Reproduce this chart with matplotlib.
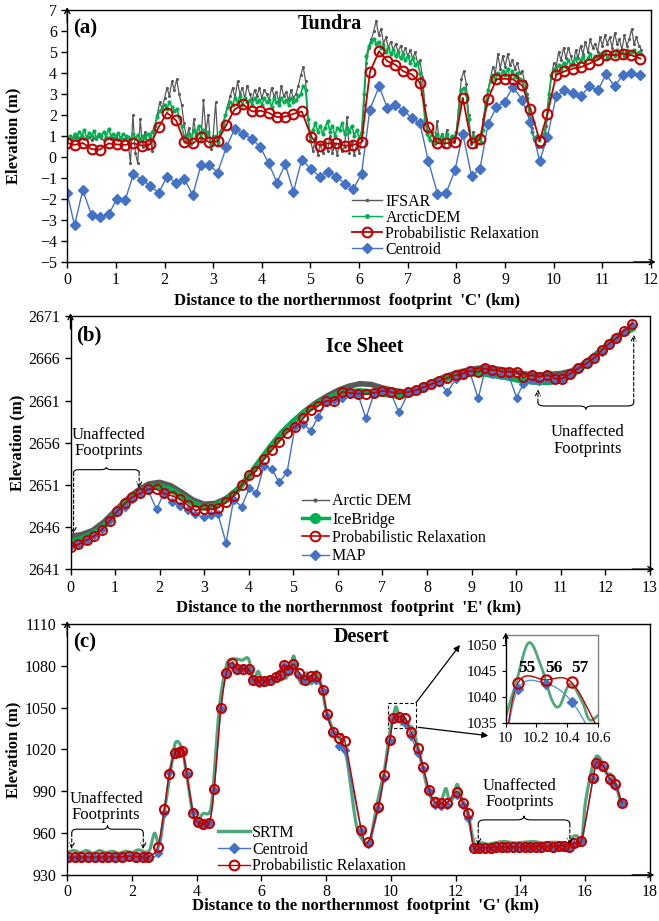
import numpy as np
import matplotlib
matplotlib.use('Agg')
import matplotlib.pyplot as plt
from matplotlib.lines import Line2D
from matplotlib.path import Path
from matplotlib.patches import PathPatch, Rectangle

plt.rcParams['font.family'] = ['Liberation Serif', 'DejaVu Serif']
plt.rcParams['font.size'] = 11.5
plt.rcParams['axes.linewidth'] = 1.0

GRAY = '#595959'
GREEN = '#00B050'
RED = '#C00000'
BLUE = '#4472C4'
SRTM_GREEN = '#4FA87C'

# ---------------- (a) Tundra ----------------
a_step_km = 0.05
a_ifsar = [0.8, 0.9, 0.85, 0.95, 0.8, 0.9, 1.0, 0.85, 0.9, 0.95, 0.8, 0.9, 0.85, 1.0, 0.9, 0.8, 0.95, 0.9, 0.85, 0.9,
           0.9, 0.8, 0.95, 0.85, 0.9, 0.7, -0.3, 2.0, 0.2, -0.3, 1.8, 0.5, 1.2, 0.4, 0.9, 0.3, 1.5, 2.0, 2.6, 2.3,
           2.8, 3.3, 2.9, 3.6, 3.2, 3.7, 3.0, 2.5, 1.6, 0.9, 1.4, 0.6, 1.8, 1.0, 1.5, 0.8, 2.7, 1.2, 2.0, 0.4,
           1.0, 2.6, 0.6, 1.2, 1.5, 2.0, 2.5, 2.9, 3.3, 2.8, 3.6, 3.0, 3.3, 2.8, 3.4, 3.0, 2.7, 3.2, 2.9, 3.3,
           2.8, 3.2, 3.0, 2.7, 3.3, 2.9, 3.1, 2.6, 3.4, 2.9, 3.1, 2.7, 3.2, 2.8, 3.0, 3.4, 3.9, 4.3, 3.6, 1.8,
           0.8, 0.3, 0.9, 0.1, 0.6, 0.2, 0.7, 0.3, 1.0, 0.2, 0.6, 0.1, 0.8, 0.3, 0.5, 1.9, 0.2, 0.7, 0.1, 0.6,
           0.2, 0.8, 2.5, 4.5, 5.2, 5.6, 6.0, 6.5, 5.8, 6.1, 5.4, 5.7, 5.2, 5.5, 5.1, 5.4, 5.0, 5.3, 4.9, 5.2,
           4.8, 5.1, 4.7, 5.0, 4.5, 4.6, 3.8, 2.5, 1.3, 0.8, 1.2, 0.6, 1.7, 0.7, 1.1, 0.5, 1.3, 0.6, 1.0, 0.7,
           1.2, 2.5, 3.7, 4.1, 3.5, 2.0, 0.6, 1.2, 0.5, 1.0, 0.7, 1.8, 2.6, 3.2, 3.8, 4.3, 4.0, 4.9, 4.2, 4.8,
           4.3, 4.9, 4.4, 4.6, 4.2, 4.5, 4.0, 4.1, 3.6, 3.0, 2.3, 1.4, 0.8, 0.5, 0.5, 0.5, 0.6, 1.5, 2.8, 3.8,
           4.5, 4.3, 5.0, 4.6, 5.2, 4.7, 5.2, 4.8, 4.4, 5.1, 4.7, 5.3, 4.9, 5.5, 5.0, 5.6, 5.2, 5.4, 5.0, 5.7,
           5.3, 5.8, 5.4, 5.7, 5.2, 5.9, 5.4, 5.6, 5.1, 5.8, 5.3, 5.6, 6.1, 5.4, 5.7, 5.3, 5.1]
a_arctic = [0.9, 1.0, 0.85, 1.1, 0.95, 1.2, 1.0, 1.3, 0.9, 1.15, 1.0, 1.25, 0.9, 1.1, 1.0, 1.2, 0.95, 1.35, 1.0, 1.1,
            1.0, 1.15, 0.9, 1.1, 1.0, 0.95, 0.8, 1.1, 0.9, 1.05, 0.85, 1.0, 0.9, 1.1, 1.0, 1.2, 1.5, 1.9, 2.2, 2.3,
            2.5, 2.3, 2.6, 2.4, 2.2, 2.3, 1.9, 1.5, 1.0, 0.7, 1.1, 0.8, 1.3, 1.0, 1.5, 0.9, 1.3, 1.0, 1.2, 0.6,
            0.8, 1.0, 0.7, 1.2, 1.6, 2.0, 2.4, 2.6, 2.5, 2.8, 2.6, 2.9, 2.5, 2.8, 2.6, 2.7, 2.5, 2.8, 2.6, 2.7,
            2.5, 2.8, 2.6, 2.7, 2.4, 2.8, 2.6, 2.5, 2.8, 2.6, 2.7, 2.5, 2.8, 2.6, 2.7, 2.9, 3.0, 3.4, 3.2, 1.8,
            1.0, 1.3, 1.6, 1.2, 1.5, 1.1, 1.4, 1.7, 1.2, 1.5, 1.0, 1.4, 1.3, 1.6, 1.1, 1.4, 1.2, 1.5, 1.0, 1.3,
            0.9, 1.2, 3.0, 4.8, 5.3, 5.5, 5.6, 5.4, 5.5, 5.2, 5.3, 5.0, 5.2, 4.9, 5.1, 4.8, 5.0, 4.7, 4.9, 4.6,
            4.8, 4.5, 4.7, 4.4, 4.5, 4.0, 3.0, 1.8, 1.1, 0.8, 1.2, 0.7, 1.1, 0.8, 1.0, 0.7, 1.1, 0.8, 1.0, 0.9,
            1.2, 2.3, 3.2, 3.3, 3.0, 1.8, 0.8, 1.0, 0.6, 0.9, 0.7, 1.3, 2.5, 3.2, 3.6, 3.9, 3.7, 4.0, 3.8, 4.1,
            3.9, 4.2, 3.8, 4.1, 3.8, 4.0, 3.7, 3.6, 3.3, 2.8, 2.0, 1.2, 0.9, 1.0, 0.8, 1.0, 1.1, 1.8, 3.0, 3.9,
            4.2, 4.0, 4.4, 4.2, 4.5, 4.3, 4.6, 4.4, 4.5, 4.7, 4.4, 4.6, 4.8, 4.5, 4.7, 4.9, 4.6, 4.8, 4.7, 4.9,
            4.8, 5.0, 4.7, 4.9, 5.0, 4.8, 5.1, 4.9, 5.0, 4.8, 5.1, 4.9, 5.0, 5.1, 4.9, 5.0, 4.9]

a_km = [0.00, 0.15, 0.32, 0.50, 0.67, 0.85, 1.02, 1.19, 1.36, 1.54, 1.71, 1.88, 2.05, 2.24, 2.41, 2.58, 2.75,
        2.92, 3.09, 3.27, 3.44, 3.61, 3.80, 3.97, 4.14, 4.31, 4.48, 4.65, 4.82, 5.02, 5.19, 5.36, 5.53, 5.71,
        5.88, 6.05, 6.22, 6.41, 6.58, 6.74, 6.91, 7.08, 7.25, 7.42, 7.61, 7.79, 7.97, 8.13, 8.31, 8.48, 8.65,
        8.82, 8.99, 9.16, 9.35, 9.52, 9.71, 9.87, 10.05, 10.22, 10.39, 10.56, 10.73, 10.91, 11.07, 11.25,
        11.42, 11.59, 11.78]
a_pr = [0.67, 0.58, 0.67, 0.38, 0.35, 0.65, 0.60, 0.58, 0.65, 0.54, 0.60, 1.42, 2.11, 1.74, 0.70, 0.65, 0.94,
        0.70, 0.75, 1.53, 2.27, 2.51, 2.17, 2.20, 2.11, 1.90, 1.93, 2.06, 2.17, 0.94, 0.54, 0.65, 0.65, 0.54,
        0.58, 0.70, 4.05, 5.04, 4.56, 4.40, 4.08, 3.94, 3.54, 1.45, 0.65, 0.65, 0.73, 2.82, 0.65, 0.84, 2.77,
        3.70, 3.73, 3.70, 3.41, 2.29, 0.78, 2.05, 3.92, 4.08, 4.21, 4.28, 4.45, 4.64, 4.88, 4.85, 4.93, 4.85,
        4.69]
a_centroid = [-1.73, -3.25, -1.58, -2.77, -2.86, -2.73, -2.01, -2.06, -0.82, -1.09, -1.38, -1.70, -0.93, -1.22,
              -1.06, -1.82, -0.37, -0.37, -0.74, 0.46, 1.34, 1.10, 0.86, 0.46, -0.29, -1.22, -0.34, -1.65, -0.13,
              -0.58, -0.94, -0.69, -0.93, -1.27, -1.53, -0.79, 2.26, 3.36, 2.34, 2.50, 2.21, 1.86, 1.61, -0.18,
              -1.74, -1.70, -0.62, 1.10, -0.90, -0.58, 1.58, 2.37, 2.64, 3.33, 2.73, 1.65, -0.19, 0.97, 2.90,
              3.17, 3.04, 2.90, 3.36, 3.17, 3.94, 3.36, 3.92, 4.02, 3.89]

# ---------------- (b) Ice Sheet ----------------
b_dem_step_km = 0.25
b_arctic_dem = [2644.9, 2645.1, 2645.6, 2646.6, 2647.9, 2649.2, 2650.3, 2651.1, 2651.3, 2650.9, 2650.1, 2649.2,
                2648.7, 2648.8, 2649.4, 2650.5, 2652.0, 2653.8, 2655.5, 2657.1, 2658.5, 2659.7, 2660.7, 2661.5,
                2662.2, 2662.7, 2663.0, 2662.9, 2662.5, 2662.2, 2662.0, 2662.3, 2662.9, 2663.5, 2664.0, 2664.4,
                2664.7, 2664.9, 2664.8, 2664.6, 2664.4, 2664.1, 2664.0, 2664.1, 2664.2, 2664.5, 2665.3, 2666.3,
                2667.4, 2668.6, 2669.6]
b_icebridge = [2644.2, 2644.6, 2645.2, 2646.1, 2647.5, 2648.9, 2650.0, 2650.7, 2650.8, 2650.4, 2649.6, 2648.8,
               2648.3, 2648.5, 2649.2, 2650.4, 2652.0, 2653.8, 2655.6, 2657.2, 2658.5, 2659.6, 2660.5, 2661.2,
               2661.7, 2662.0, 2662.1, 2662.0, 2661.8, 2661.6, 2661.6, 2662.0, 2662.6, 2663.2, 2663.7, 2664.0,
               2664.2, 2664.2, 2664.0, 2663.8, 2663.5, 2663.3, 2663.2, 2663.2, 2663.4, 2664.0, 2665.0, 2666.1,
               2667.3, 2668.5, 2669.5]

b_km = [0.00, 0.17, 0.36, 0.53, 0.71, 0.88, 1.05, 1.22, 1.39, 1.57, 1.74, 1.93, 2.10, 2.28, 2.45, 2.63, 2.80,
        2.99, 3.16, 3.31, 3.49, 3.66, 3.84, 4.01, 4.17, 4.34, 4.52, 4.68, 4.86, 5.04, 5.22, 5.39, 5.56, 5.74,
        5.92, 6.10, 6.27, 6.45, 6.63, 6.81, 7.00, 7.19, 7.37, 7.58, 7.75, 7.91, 8.10, 8.27, 8.46, 8.65, 8.80,
        8.96, 9.15, 9.30, 9.47, 9.66, 9.84, 10.01, 10.16, 10.35, 10.52, 10.70, 10.87, 11.04, 11.22, 11.39,
        11.58, 11.74, 11.92, 12.09, 12.25, 12.42, 12.61]
b_pr = [2643.64, 2643.93, 2644.44, 2644.91, 2645.70, 2646.73, 2647.88, 2648.79, 2649.58, 2649.98, 2650.49,
        2650.49, 2649.98, 2649.69, 2649.30, 2648.59, 2648.00, 2648.08, 2648.08, 2648.27, 2648.91, 2649.69,
        2650.96, 2652.11, 2652.66, 2654.04, 2655.11, 2656.10, 2657.17, 2657.88, 2658.87, 2659.85, 2660.36,
        2660.96, 2661.00, 2662.03, 2661.90, 2661.83, 2661.75, 2661.90, 2662.14, 2662.00, 2661.83, 2662.00,
        2662.23, 2662.55, 2662.94, 2663.29, 2663.69, 2664.00, 2664.20, 2664.52, 2664.40, 2664.80, 2664.60,
        2664.40, 2664.40, 2664.40, 2663.73, 2664.00, 2663.80, 2664.00, 2663.61, 2663.61, 2664.20, 2664.80,
        2665.39, 2665.99, 2666.97, 2667.76, 2668.36, 2669.26, 2670.13]
b_map = [2643.70, 2643.93, 2644.44, 2645.00, 2645.74, 2646.80, 2647.88, 2648.40, 2649.38, 2650.06, 2650.37,
         2648.08, 2650.06, 2648.91, 2648.47, 2648.00, 2647.52, 2647.13, 2647.40, 2647.52, 2644.12, 2649.26,
         2648.40, 2650.57, 2649.98, 2653.21, 2652.86, 2651.28, 2652.47, 2657.96, 2658.27, 2657.40, 2659.06,
         2660.96, 2661.12, 2661.35, 2661.80, 2661.75, 2658.87, 2661.83, 2662.00, 2661.90, 2659.58, 2661.90,
         2662.23, 2662.45, 2662.82, 2663.20, 2662.00, 2663.61, 2664.00, 2664.40, 2661.24, 2664.60, 2664.20,
         2664.00, 2663.90, 2661.35, 2662.94, 2663.41, 2663.30, 2663.61, 2663.50, 2663.61, 2664.10, 2664.70,
         2665.30, 2665.99, 2666.77, 2667.56, 2668.24, 2669.15, 2670.00]

# ---------------- (c) Desert ----------------
c_srtm_km = [0, 0.2, 0.4, 0.6, 0.8, 1.0, 1.2, 1.4, 1.6, 1.8, 2.0, 2.2, 2.4, 2.55, 2.7, 2.85, 3.0, 3.2, 3.35,
             3.55, 3.7, 3.9, 4.05, 4.2, 4.4, 4.5, 4.7, 4.9, 5.0, 5.2, 5.4, 5.6, 5.75, 5.9, 6.05, 6.25, 6.45,
             6.6, 6.75, 6.9, 7.0, 7.1, 7.25, 7.4, 7.55, 7.7, 7.85, 8.0, 8.2, 8.35, 8.5, 8.65, 8.8, 8.95, 9.1,
             9.25, 9.35, 9.45, 9.6, 9.8, 9.95, 10.07, 10.15, 10.23, 10.3, 10.35, 10.42, 10.5, 10.55, 10.65,
             10.8, 10.95, 11.1, 11.25, 11.4, 11.55, 11.7, 11.8, 11.95, 12.05, 12.2, 12.35, 12.5, 12.6, 12.8,
             13.0, 13.2, 13.5, 13.8, 14.1, 14.4, 14.7, 15.0, 15.3, 15.5, 15.6, 15.75, 15.9, 16.0, 16.2, 16.35,
             16.5, 16.65, 16.8, 16.95, 17.1]
c_srtm = [946, 947.5, 946, 947.5, 945.5, 947.5, 946, 947, 945.5, 947, 946, 948, 946.5, 948, 960, 952, 975,
          1005, 1025, 1020, 1000, 972, 970, 974, 975, 990, 1050, 1078, 1084, 1085, 1084, 1085, 1070, 1076,
          1068, 1072, 1069, 1077, 1071, 1079, 1087, 1075, 1067, 1075, 1067, 1076, 1066, 1048, 1035, 1029,
          1025, 1012, 986, 964, 956, 952, 952, 965, 984, 1005, 1030, 1043, 1050.5, 1046, 1039.5, 1038.2,
          1042.5, 1039, 1035.5, 1036, 1025, 1010, 995, 985, 985, 983, 992, 984, 986, 995, 984, 978, 960,
          952, 953, 952, 953, 954, 953, 953.5, 954, 953, 953.5, 953, 952, 957, 958, 955, 980, 1005, 1015,
          1012, 1003, 1002, 995, 982]

c_km = [0.03, 0.24, 0.44, 0.65, 0.86, 1.06, 1.27, 1.47, 1.68, 1.91, 2.12, 2.33, 2.50, 2.79, 3.00, 3.15, 3.33,
        3.45, 3.56, 3.69, 3.89, 4.03, 4.20, 4.39, 4.54, 4.75, 4.92, 5.08, 5.25, 5.44, 5.61, 5.75, 5.92, 6.09,
        6.26, 6.45, 6.57, 6.69, 6.83, 6.98, 7.17, 7.34, 7.52, 7.70, 7.89, 8.03, 8.22, 8.40, 8.58, 9.09, 9.30,
        9.61, 9.79, 9.97, 10.08, 10.26, 10.43, 10.62, 10.84, 11.00, 11.18, 11.36, 11.54, 11.72, 12.03, 12.23,
        12.39, 12.56, 12.73, 12.90, 13.08, 13.25, 13.43, 13.60, 13.78, 13.95, 14.13, 14.30, 14.48, 14.65,
        14.83, 15.00, 15.18, 15.36, 15.50, 15.65, 15.89, 16.25, 16.35, 16.56, 16.77, 16.94, 17.13]
c_pr = [942.7, 942.7, 942.7, 942.7, 942.7, 942.7, 942.7, 942.8, 943.0, 943.5, 943.2, 942.8, 942.7,
        949.9, 977.1, 1002.4, 1017.7, 1018.3, 1018.9, 1003.0, 974.3, 967.8, 966.6, 967.5, 991.7,
        1049.6, 1075.1, 1082.3, 1077.6, 1077.6, 1077.6, 1069.9, 1069.4, 1069.2, 1069.9, 1071.8, 1073.5,
        1080.6, 1077.1, 1081.1, 1074.7, 1069.9, 1072.8, 1072.8, 1062.7,
        1045.3, 1032.8, 1028.5, 1026.1, 962.3, 953.9, 979.0, 1001.7, 1026.8,
        1042.7, 1043.3, 1042.8, 1032.8, 1020.9, 1007.3, 991.0, 982.6, 981.4, 981.4,
        989.8, 981.4, 974.3, 949.2,
        949.5, 949.6, 949.6, 949.7, 949.7, 949.8, 949.8, 950.0, 950.2, 950.3, 950.3, 950.4, 950.5, 950.4,
        950.8, 951.0, 950.3, 953.2, 954.7, 999.8, 1010.6, 1008.2, 998.7, 995.3, 981.9]
c_centroid = [942.5, 942.5, 942.5, 942.5, 942.5, 942.5, 942.5, 942.6, 942.8, 943.2, 943.0, 942.6, 942.5,
              946.0, 974.5, 1003.5, 1017.0, 1018.0, 1018.5, 1002.5, 975.5, 967.5, 966.0, 967.0, 991.0,
              1049.0, 1074.5, 1080.5, 1077.0, 1078.5, 1077.0, 1069.5, 1067.5, 1068.5, 1069.5, 1071.5, 1073.0,
              1080.0, 1076.5, 1080.0, 1073.0, 1069.5, 1071.5, 1070.0, 1062.0,
              1044.0, 1031.5, 1022.5, 1019.5, 961.5, 952.0, 977.0, 999.5, 1026.0,
              1041.5, 1042.6, 1039.1, 1029.5, 1017.5, 1006.0, 990.0, 980.5, 979.5, 980.5,
              987.5, 980.5, 970.5, 949.0,
              949.3, 949.4, 949.4, 949.5, 949.5, 949.6, 949.6, 949.8, 950.0, 950.1, 950.1, 950.2, 950.3, 950.2,
              950.6, 950.8, 950.1, 952.5, 954.0, 999.0, 1010.0, 1007.5, 997.5, 993.5, 981.5]
c_labels = ['55', '56', '57']


def smooth(x, y, n=10):
    # Catmull-Rom style smoothing, like the Excel "smoothed line" option
    x = np.asarray(x, float)
    y = np.asarray(y, float)
    px = np.concatenate([[x[0]], x, [x[-1]]])
    py = np.concatenate([[y[0]], y, [y[-1]]])
    t = np.linspace(0, 1, n, endpoint=False)[:, None]
    xs, ys = [], []
    for i in range(1, len(px) - 2):
        for p, out in ((px, xs), (py, ys)):
            p0, p1, p2, p3 = p[i - 1], p[i], p[i + 1], p[i + 2]
            out.append(0.5 * (2 * p1 + (-p0 + p2) * t + (2 * p0 - 5 * p1 + 4 * p2 - p3) * t ** 2
                              + (-p0 + 3 * p1 - 3 * p2 + p3) * t ** 3).ravel())
    return np.concatenate(xs + [[x[-1]]]), np.concatenate(ys + [[y[-1]]])


def axis_arrows(ax):
    kw = dict(arrowstyle='->', lw=1, color='black', shrinkA=0, shrinkB=0, mutation_scale=9)
    ax.annotate('', xy=(0, 1.012), xytext=(0, 0.95), xycoords='axes fraction', arrowprops=kw,
                annotation_clip=False)
    ax.annotate('', xy=(1.008, 0), xytext=(0.97, 0), xycoords='axes fraction', arrowprops=kw,
                annotation_clip=False)


def brace(ax, x1, x2, y0, h, d):
    xm = (x1 + x2) / 2
    verts = [(x1, y0), (x1, y0 + h), (x1 + d, y0 + h), (xm - d, y0 + h), (xm, y0 + h), (xm, y0 + 2 * h),
             (xm, y0 + h), (xm + d, y0 + h), (x2 - d, y0 + h), (x2, y0 + h), (x2, y0)]
    codes = [Path.MOVETO, Path.CURVE3, Path.CURVE3, Path.LINETO, Path.CURVE3, Path.CURVE3,
             Path.CURVE3, Path.CURVE3, Path.LINETO, Path.CURVE3, Path.CURVE3]
    ax.add_patch(PathPatch(Path(verts, codes), fill=False, lw=0.8, color='black'))


def dashed_arrow(ax, x, y_from, y_to):
    ax.annotate('', xy=(x, y_to), xytext=(x, y_from),
                arrowprops=dict(arrowstyle='->', ls=(0, (3, 2)), lw=0.8, color='black',
                                shrinkA=0, shrinkB=0, mutation_scale=9))


def style_axes(ax, title, tag, title_xy, xlabel, xlabel_xy):
    ax.tick_params(direction='out', length=4, width=1, labelsize=11.5)
    ax.text(*title_xy, title, transform=ax.transAxes, fontsize=14.5, fontweight='bold',
            ha='center', va='center')
    ax.text(0.01, 0.925, tag, transform=ax.transAxes, fontsize=15, fontweight='bold', va='center')
    ax.set_xlabel(xlabel, fontsize=12, fontweight='bold')
    ax.set_ylabel('Elevation (m)', fontsize=12, fontweight='bold')
    ax.xaxis.set_label_coords(*xlabel_xy)
    ax.yaxis.set_label_coords(-0.078, 0.5)
    axis_arrows(ax)


fig = plt.figure(figsize=(6.59, 9.21), dpi=100)

# ---- panel (a)
ax = fig.add_axes([0.102, 0.7155, 0.886, 0.2736])
a_dense_km = np.arange(len(a_ifsar)) * a_step_km
ax.plot(a_dense_km, a_ifsar, color=GRAY, lw=0.9, marker='.', ms=2.5)
ax.plot(a_dense_km, a_arctic, color=GREEN, lw=1.2, marker='o', ms=2)
ax.plot(a_km, a_centroid, color=BLUE, lw=1, marker='D', ms=5)
ax.plot(a_km, a_pr, color=RED, lw=1.3, marker='o', ms=7, mfc='none', mec=RED, mew=1.5)
ax.set_xlim(0, 12)
ax.set_ylim(-5, 7)
ax.set_xticks(range(0, 13))
ax.set_yticks(range(-5, 8))
style_axes(ax, 'Tundra', '(a)', (0.45, 0.944),
           "Distance to the northernmost  footprint  'C' (km)", (0.48, -0.122))
handles = [Line2D([], [], color=GRAY, lw=1, marker='.', ms=3),
           Line2D([], [], color=GREEN, lw=1, marker='o', ms=2.5),
           Line2D([], [], color=RED, lw=1.3, marker='o', ms=7, mfc='none', mew=1.5),
           Line2D([], [], color=BLUE, lw=1, marker='D', ms=5)]
ax.legend(handles, ['IFSAR', 'ArcticDEM', 'Probabilistic Relaxation', 'Centroid'],
          loc='upper left', bbox_to_anchor=(0.4875, 0.27), frameon=False, fontsize=11.5,
          borderpad=0, borderaxespad=0, handlelength=1.9, handletextpad=0.2, labelspacing=0.0)

# ---- panel (b)
ax = fig.add_axes([0.107, 0.382, 0.879, 0.2747])
b_dem_km = np.append(np.arange(len(b_icebridge) - 1) * b_dem_step_km, 12.6)
ax.plot(b_dem_km, b_arctic_dem, color=GRAY, lw=4, marker='.', ms=4)
ax.plot(b_dem_km, b_icebridge, color=GREEN, lw=4.5)
ax.plot(b_km, b_map, color=BLUE, lw=1, marker='D', ms=4.5)
ax.plot(b_km, b_pr, color=RED, lw=1.2, marker='o', ms=6.5, mfc='none', mec=RED, mew=1.4)
ax.set_xlim(0, 13)
ax.set_ylim(2641, 2671)
ax.set_xticks(range(0, 14))
ax.set_yticks(range(2641, 2672, 5))
style_axes(ax, 'Ice Sheet', '(b)', (0.508, 0.879),
           "Distance to the northernmost  footprint  'E' (km)", (0.48, -0.122))
brace(ax, 0.07, 1.54, 2652.5, 0.3, 0.12)
dashed_arrow(ax, 0.07, 2652.5, 2645.2)
dashed_arrow(ax, 1.54, 2652.5, 2650.6)
ax.text(0.86, 2655.95, 'Unaffected\nFootprints', ha='center', va='center', fontsize=12, linespacing=1.05)
brace(ax, 10.49, 12.64, 2660.75, -0.4, 0.15)
dashed_arrow(ax, 10.49, 2660.75, 2662.3)
dashed_arrow(ax, 12.64, 2660.75, 2668.8)
ax.text(11.6, 2656.25, 'Unaffected\nFootprints', ha='center', va='center', fontsize=12, linespacing=1.05)
handles = [Line2D([], [], color=GRAY, lw=1, marker='.', ms=4),
           Line2D([], [], color=GREEN, lw=2.5, marker='o', ms=7),
           Line2D([], [], color=RED, lw=1.2, marker='o', ms=7, mfc='none', mew=1.4),
           Line2D([], [], color=BLUE, lw=1, marker='D', ms=5)]
ax.legend(handles, ['Arctic DEM', 'IceBridge', 'Probabilistic Relaxation', 'MAP'],
          loc='upper left', bbox_to_anchor=(0.399, 0.30), frameon=False, fontsize=11.5,
          borderpad=0, borderaxespad=0, handlelength=1.7, handletextpad=0.2, labelspacing=0.15)

# ---- panel (c)
ax = fig.add_axes([0.102, 0.050, 0.884, 0.2725])
sx, sy = smooth(c_srtm_km, c_srtm)
ax.plot(sx, sy, color=SRTM_GREEN, lw=2.3)
cx, cy = smooth(c_km, c_centroid)
ax.plot(cx, cy, color=BLUE, lw=1)
ax.plot(c_km, c_centroid, ls='none', marker='D', ms=4.5, color=BLUE)
px_, py_ = smooth(c_km, c_pr)
ax.plot(px_, py_, color=RED, lw=1)
ax.plot(c_km, c_pr, ls='none', marker='o', ms=6.5, mfc='none', mec=RED, mew=1.5)
ax.set_xlim(0, 18)
ax.set_ylim(930, 1110)
ax.set_xticks(range(0, 19, 2))
ax.set_yticks(range(930, 1111, 30))
style_axes(ax, 'Desert', '(c)', (0.506, 0.947),
           "Distance to the northernmost  footprint  'G' (km)", (0.512, -0.093))
ax.tick_params(axis='x', pad=2.5)
brace(ax, 0.14, 2.35, 960.0, 2.8, 0.15)
dashed_arrow(ax, 0.14, 960.0, 948.5)
dashed_arrow(ax, 2.35, 960.0, 948.5)
ax.text(1.2, 978.6, 'Unaffected\nFootprints', ha='center', va='center', fontsize=12, linespacing=1.05)
brace(ax, 12.7, 15.53, 966.6, 2.9, 0.2)
dashed_arrow(ax, 12.7, 966.6, 951.5)
dashed_arrow(ax, 15.53, 966.6, 951.5)
ax.text(13.98, 988.2, 'Unaffected\nFootprints', ha='center', va='center', fontsize=12, linespacing=1.05)
ax.add_patch(Rectangle((9.92, 1035.1), 0.86, 18, fill=False, ls=(0, (3, 2)), lw=0.8, color='black'))
akw = dict(arrowstyle='-|>', lw=0.9, color='black', shrinkA=0, shrinkB=0, mutation_scale=9)
ax.annotate('', xy=(0.698, 0.2997), xytext=(0.6313, 0.2370), xycoords='figure fraction',
            arrowprops=akw, annotation_clip=False)
ax.annotate('', xy=(0.741, 0.2012), xytext=(0.6347, 0.2103), xycoords='figure fraction',
            arrowprops=akw, annotation_clip=False)
handles = [Line2D([], [], color=SRTM_GREEN, lw=2.5),
           Line2D([], [], color=BLUE, lw=1, marker='D', ms=5),
           Line2D([], [], color=RED, lw=1, marker='o', ms=7, mfc='none', mew=1.5)]
ax.legend(handles, ['SRTM', 'Centroid', 'Probabilistic Relaxation'],
          loc='upper left', bbox_to_anchor=(0.2586, 0.20), frameon=False, fontsize=11.5,
          borderpad=0, borderaxespad=0, handlelength=2.0, handletextpad=0.15, labelspacing=0.05)

# ---- inset of (c)
ins = fig.add_axes([0.7674, 0.2153, 0.1396, 0.0952])
ins.plot(sx, sy, color=SRTM_GREEN, lw=2)
ins.plot(cx, cy, color='#5B9BD5', lw=1)
ins.plot(px_, py_, color=RED, lw=1)
ins.plot(c_km, c_centroid, ls='none', marker='D', ms=5.5, color=BLUE)
ins.plot(c_km, c_pr, ls='none', marker='o', ms=7.5, mfc='none', mec=RED, mew=1.5)
ins.set_xlim(10, 10.6)
ins.set_ylim(1035, 1052)
ins.set_xticks([10, 10.2, 10.4, 10.6])
ins.set_xticklabels(['10', '10.2', '10.4', '10.6'])
ins.set_yticks([1035, 1040, 1045, 1050])
ins.tick_params(direction='out', length=3, labelsize=11)
for s in ('top', 'right'):
    ins.spines[s].set_color('#808080')
for lab, xk in zip(c_labels, c_km[54:57]):
    ins.text(xk + 0.055, 1044.1, lab, ha='center', va='bottom', fontsize=12.5, fontweight='bold')
ins.annotate('', xy=(0, 1.03), xytext=(0, 0.9), xycoords='axes fraction',
             arrowprops=dict(arrowstyle='->', lw=1, color='black', shrinkA=0, shrinkB=0, mutation_scale=8),
             annotation_clip=False)

fig.savefig('out.png', dpi=100)
